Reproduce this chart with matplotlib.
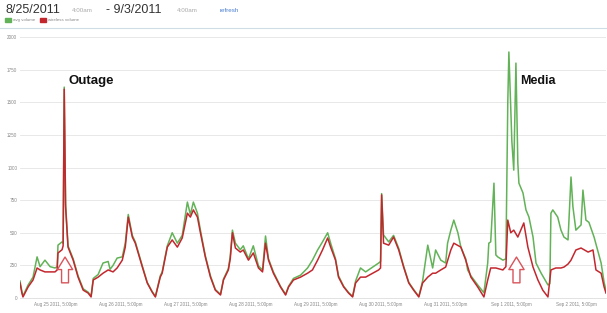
import matplotlib
matplotlib.use("Agg")
import matplotlib.pyplot as plt

# ---- data (x in hours after 8/25/2011 4:00am) ----
wireless_hours = [0.0, 0.7, 1.1, 3.0, 4.8, 6.3, 7.4, 9.2, 11.1, 12.9, 13.7, 14.0, 15.5, 15.9,
                  16.3, 16.8, 17.7, 19.6, 21.4, 23.3, 25.1, 26.2, 27.0, 28.8, 30.6, 32.5, 34.3,
                  35.8, 37.7, 38.8, 39.9, 41.4, 42.5, 45.1, 46.9, 48.7, 49.9, 51.7, 52.4, 54.3,
                  56.1, 58.0, 59.8, 61.7, 62.8, 63.9, 65.4, 66.5, 68.3, 70.2, 72.0, 73.9, 75.0,
                  76.8, 77.5, 78.3, 79.4, 81.2, 82.3, 84.2, 86.0, 87.9, 89.4, 90.5, 91.6, 93.4,
                  96.0, 97.9, 99.0, 100.8, 103.4, 106.0, 107.8, 109.7, 111.5, 113.4, 114.5, 116.3,
                  117.4, 119.3, 121.1, 122.6, 123.7, 125.5, 127.4, 130.0, 132.2, 132.9, 133.3,
                  134.0, 135.9, 137.7, 139.6, 141.4, 143.3, 145.1, 147.0, 148.4, 150.3, 152.1,
                  153.2, 155.1, 156.9, 158.8, 159.9, 162.5, 164.3, 166.2, 168.7, 171.0, 172.4,
                  173.5, 175.4, 178.0, 179.1, 179.8, 180.9, 182.0, 183.5, 184.6, 185.7, 187.2,
                  189.1, 190.9, 192.7, 194.6, 195.7, 197.5, 199.4, 200.5, 202.0, 203.1, 204.9,
                  206.8, 209.4, 211.2, 212.3, 214.2, 215.3, 216.0]
wireless_volume = [115, 38, 8, 85, 138, 230, 215, 200, 200, 200, 215, 345, 370, 400,
                   1600, 700, 390, 290, 160, 60, 38, 8, 138, 160, 190, 215, 200,
                   230, 290, 390, 620, 467, 420, 237, 115, 46, 8, 160, 190, 390,
                   445, 390, 460, 650, 620, 675, 620, 500, 315, 160, 60, 23, 138,
                   215, 300, 500, 383, 352, 368, 290, 345, 230, 200, 420, 290, 190,
                   85, 23, 85, 138, 160, 190, 215, 290, 368, 460, 390, 290,
                   160, 85, 38, 8, 115, 160, 160, 190, 215, 230, 790,
                   420, 405, 467, 368, 237, 115, 60, 8, 115, 160, 190,
                   190, 215, 237, 368, 420, 390, 290, 160, 85, 8, 138,
                   230, 230, 215, 240, 597, 500, 520, 467, 520, 575, 390,
                   237, 138, 60, 8, 215, 230, 230, 237, 260, 290, 368,
                   383, 352, 368, 215, 190, 85, 38]

avg_hours = [0.0, 0.7, 1.1, 3.0, 4.8, 6.3, 7.4, 9.2, 11.1, 12.9, 13.7, 14.0, 15.5, 15.9,
             16.3, 16.8, 17.7, 19.6, 21.4, 23.3, 25.1, 26.2, 27.0, 28.8, 30.6, 32.5, 33.2,
             34.3, 35.8, 37.7, 38.8, 39.9, 41.4, 42.5, 45.1, 46.9, 48.7, 49.9, 51.7, 52.4,
             54.3, 56.1, 58.0, 59.8, 61.7, 62.8, 63.9, 65.4, 66.5, 68.3, 70.2, 72.0, 73.9,
             75.0, 76.8, 77.5, 78.3, 79.4, 81.2, 82.3, 84.2, 86.0, 87.9, 89.4, 90.5, 91.6,
             93.4, 96.0, 97.9, 99.0, 100.8, 103.4, 106.0, 107.8, 109.7, 111.5, 113.4, 114.5,
             116.3, 117.4, 119.3, 121.1, 122.6, 123.7, 125.5, 127.4, 130.0, 132.2, 132.9,
             133.3, 134.0, 135.9, 137.7, 139.6, 141.4, 143.3, 145.1, 147.0, 148.4, 150.3,
             151.4, 152.1, 153.2, 155.1, 156.9, 157.6, 158.8, 159.9, 161.4, 162.5, 164.3,
             165.0, 166.2, 168.7, 171.0, 172.4, 172.8, 173.5, 174.7, 175.4, 176.1, 178.0,
             179.1, 179.8, 180.2, 181.3, 182.0, 182.8, 183.5, 183.9, 185.4, 186.5, 187.6,
             189.1, 190.2, 192.1, 194.6, 195.3, 195.7, 196.4, 198.2, 199.4, 200.5, 202.0,
             203.1, 203.8, 204.9, 206.8, 207.5, 208.6, 209.7, 211.6, 214.2, 215.3, 216.0]
avg_volume = [130, 50, 15, 100, 160, 315, 240, 290, 240, 230, 240, 405, 430, 420,
              1616, 720, 400, 300, 170, 70, 45, 15, 150, 180, 268, 280, 220,
              250, 306, 315, 420, 640, 480, 430, 245, 120, 50, 12, 170, 200,
              400, 500, 420, 480, 735, 640, 735, 650, 520, 325, 170, 65, 28,
              145, 225, 320, 520, 420, 370, 400, 300, 400, 245, 215, 475, 300,
              200, 90, 28, 90, 150, 175, 230, 290, 368, 430, 500, 420,
              300, 170, 90, 42, 12, 130, 230, 200, 237, 268, 280,
              800, 483, 430, 480, 380, 245, 120, 65, 12, 130, 405,
              300, 230, 368, 290, 268, 420, 520, 597, 500, 390, 300,
              215, 170, 100, 40, 268, 420, 430, 880, 330, 315, 290,
              300, 1500, 1885, 1200, 980, 1800, 1034, 880, 805, 675, 620,
              467, 268, 190, 100, 110, 650, 675, 620, 520, 467, 445,
              927, 700, 520, 560, 827, 597, 580, 467, 268, 120, 60]

y_ticks = [0, 250, 500, 750, 1000, 1250, 1500, 1750, 2000]
date_tick_hours = [13, 37, 61, 85, 109, 133, 157, 181, 205]
date_tick_labels = ["Aug 25 2011, 5:00pm", "Aug 26 2011, 5:00pm", "Aug 27 2011, 5:00pm",
                    "Aug 28 2011, 5:00pm", "Aug 29 2011, 5:00pm", "Aug 30 2011, 5:00pm",
                    "Aug 31 2011, 5:00pm", "Sep 1 2011, 5:00pm", "Sep 2 2011, 5:00pm"]

GREEN = "#62b257"
RED = "#c3272e"
W, H = 607, 313

plt.rcParams["font.family"] = ["Liberation Sans", "DejaVu Sans"]


def fx(px):
    return px / W


def fy(py):
    return 1 - py / H


fig = plt.figure(figsize=(W / 100, H / 100), dpi=100)
ax = fig.add_axes([fx(20), fy(298), fx(606) - fx(20), fy(37) - fy(298)])

ax.plot(avg_hours, avg_volume, color=GREEN, linewidth=1.1, zorder=2)
ax.plot(wireless_hours, wireless_volume, color=RED, linewidth=1.1, zorder=3)

ax.set_xlim(0, 216)
ax.set_ylim(0, 2000)
ax.set_yticks(y_ticks)
ax.set_yticklabels([str(v) for v in y_ticks])
ax.set_xticks(date_tick_hours)
ax.set_xticklabels(date_tick_labels)
ax.tick_params(axis="both", length=0, labelsize=3.3, colors="#888888")
ax.tick_params(axis="y", pad=2)
ax.tick_params(axis="x", pad=3)
ax.grid(axis="y", color="#e4e4e4", linewidth=0.6)
ax.set_axisbelow(True)
for s in ["top", "right", "left"]:
    ax.spines[s].set_visible(False)
ax.spines["bottom"].set_color("#dddddd")
ax.spines["bottom"].set_linewidth(0.6)

# annotations
ax.text(18.0, 1660, "Outage", fontsize=9.5, fontweight="bold", color="#111111", va="center")
ax.text(184.5, 1660, "Media", fontsize=9, fontweight="bold", color="#111111", va="center")
for xh in [16.6, 183.0]:
    ax.annotate("", xy=(xh, 335), xytext=(xh, 95),
                arrowprops=dict(arrowstyle="simple,head_width=1.1,head_length=0.9,tail_width=0.5",
                                fc="white", ec="#d9545b", lw=1.0), zorder=4)

# header
fig.text(fx(5), fy(10), "8/25/2011", fontsize=9, color="#333333", va="center")
fig.text(fx(72), fy(10), "4:00am", fontsize=4.5, color="#aaaaaa", va="center")
fig.text(fx(106), fy(10), "- 9/3/2011", fontsize=9, color="#333333", va="center")
fig.text(fx(177), fy(10), "4:00am", fontsize=4.5, color="#aaaaaa", va="center")
fig.text(fx(220), fy(10), "refresh", fontsize=4.5, color="#4a7fd0", va="center")

# legend row
for x0, col, lab in [(5, GREEN, "avg volume"), (40, RED, "wireless volume")]:
    fig.patches.append(plt.Rectangle((fx(x0), fy(22)), fx(6), 4 / H, color=col,
                                     transform=fig.transFigure, figure=fig))
    fig.text(fx(x0 + 8), fy(20), lab, fontsize=3.2, color="#888888", va="center")

fig.add_artist(plt.Line2D([0, 1], [fy(28), fy(28)], color="#cfdde6", linewidth=0.8,
                          transform=fig.transFigure))

fig.savefig("out.png", dpi=100)
